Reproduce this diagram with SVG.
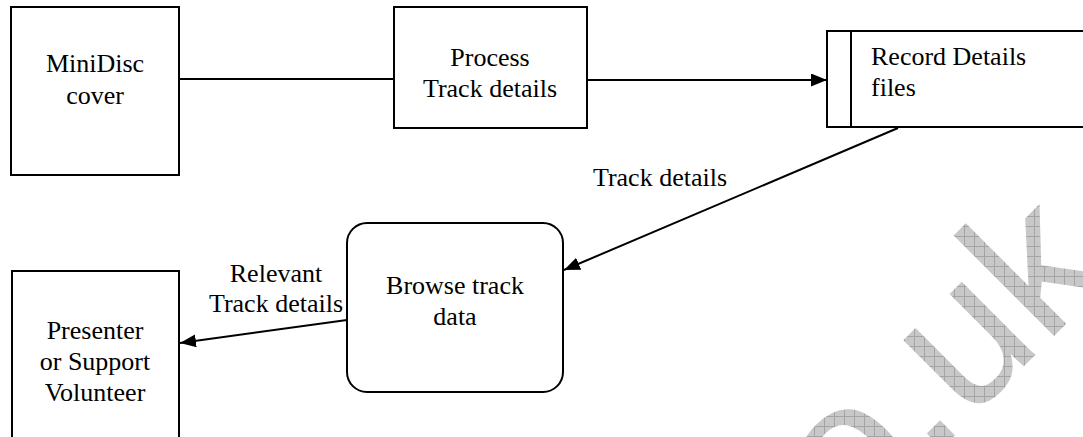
<svg xmlns="http://www.w3.org/2000/svg" width="1083" height="437" viewBox="0 0 1083 437">
  <defs>
    <style>
      .box { fill: #ffffff; stroke: #000000; stroke-width: 2; }
      .edge { fill: none; stroke: #000000; stroke-width: 2; }
      .lbl { font-family: "Liberation Serif", "Times New Roman", serif; font-size: 26px; fill: #000000; }
      .mid { text-anchor: middle; }
      .wm { font-family: "Liberation Sans", Arial, sans-serif; font-size: 196px; fill: url(#hatch); }
    </style>
    <marker id="arrow" markerUnits="userSpaceOnUse" markerWidth="16" markerHeight="13" refX="16" refY="6.5" orient="auto">
      <path d="M0,0 L16,6.5 L0,13 z" fill="#000000"/>
    </marker>
    <!-- light grey cross-hatch used by the background mark -->
    <pattern id="hatch" patternUnits="userSpaceOnUse" width="10" height="10" patternTransform="rotate(45)">
      <rect width="10" height="10" fill="#c8c8c8"/>
      <path d="M0,0.5 H10 M0.5,0 V10" stroke="#a4a4a4" stroke-width="1"/>
    </pattern>
  </defs>

  <rect width="1083" height="437" fill="#ffffff"/>

  <!-- background mark -->
  <g id="mark">
    <text class="wm" text-anchor="end" transform="translate(1114,276) rotate(-45)">o.uk</text>
  </g>

  <g id="connectors">
    <line class="edge" x1="179" y1="79" x2="394" y2="79"/>
    <line class="edge" x1="587" y1="80" x2="827" y2="80" marker-end="url(#arrow)"/>
    <line class="edge" x1="898" y1="128" x2="564" y2="270" marker-end="url(#arrow)"/>
    <line class="edge" x1="347" y1="320" x2="180" y2="343" marker-end="url(#arrow)"/>
    <text class="lbl mid" x="660" y="186">Track details</text>
    <text class="lbl mid" x="276" y="282">Relevant</text>
    <text class="lbl mid" x="276" y="312">Track details</text>
  </g>

  <g id="minidisc-cover">
    <rect class="box" x="11" y="7" width="168" height="168"/>
    <text class="lbl mid" x="95" y="72">MiniDisc</text>
    <text class="lbl mid" x="95" y="104">cover</text>
  </g>

  <g id="process-track-details">
    <rect class="box" x="394" y="7" width="193" height="121"/>
    <text class="lbl mid" x="490" y="66">Process</text>
    <text class="lbl mid" x="490" y="97">Track details</text>
  </g>

  <g id="record-details-files">
    <rect class="box" x="827" y="31" width="280" height="96"/>
    <line class="edge" x1="851" y1="31" x2="851" y2="127"/>
    <text class="lbl" x="871" y="65">Record Details</text>
    <text class="lbl" x="871" y="96">files</text>
  </g>

  <g id="browse-track-data">
    <rect class="box" x="347" y="223" width="216" height="169" rx="20" ry="20"/>
    <text class="lbl mid" x="455" y="294">Browse track</text>
    <text class="lbl mid" x="455" y="325">data</text>
  </g>

  <g id="presenter">
    <rect class="box" x="12" y="271" width="167" height="190"/>
    <text class="lbl mid" x="95" y="339">Presenter</text>
    <text class="lbl mid" x="95" y="370">or Support</text>
    <text class="lbl mid" x="95" y="401">Volunteer</text>
  </g>
</svg>
